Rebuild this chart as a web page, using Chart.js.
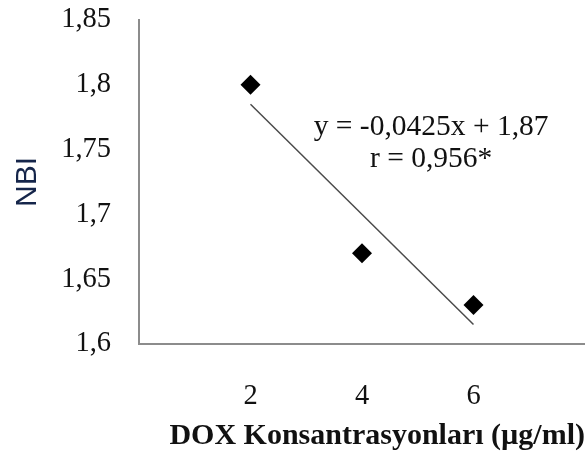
<!DOCTYPE html>
<html>
<head>
<meta charset="utf-8">
<script src="https://cdn.jsdelivr.net/npm/chart.js@4/dist/chart.umd.min.js"></script>
<style>
html,body{margin:0;padding:0;background:#fff;}
canvas{display:block;}
</style>
</head>
<body>
<canvas id="c" width="585" height="457"></canvas>
<script>
// Data
const concentrations = [2, 4, 6];
const nbiValues = [1.80, 1.67, 1.63];
const trendX = [2, 6];
const trendY = [1.785, 1.615];
const xTickLabels = ['2', '4', '6'];
const equationLines = ['y = -0,0425x + 1,87', 'r = 0,956*'];
const equationAnchor = {x: 5.24, y: 1.761};

const serif = '"Liberation Serif", "Times New Roman", serif';

const eqPlugin = {
  id: 'eq',
  afterDatasetsDraw(chart) {
    const {ctx, scales} = chart;
    const px = scales.x.getPixelForValue(equationAnchor.x);
    const py = scales.y.getPixelForValue(equationAnchor.y);
    ctx.save();
    ctx.font = '29.5px ' + serif;
    ctx.fillStyle = '#111';
    ctx.textAlign = 'center';
    ctx.textBaseline = 'alphabetic';
    equationLines.forEach((t, i) => ctx.fillText(t, px, py + i * 32));
    ctx.restore();
  }
};

function zeroPad(s) {
  s.paddingTop = 0; s.paddingBottom = 0; s.paddingLeft = 0; s.paddingRight = 0;
}

new Chart(document.getElementById('c'), {
  type: 'scatter',
  data: {
    datasets: [
      {
        label: 'Trend',
        type: 'line',
        data: trendX.map((x, i) => ({x, y: trendY[i]})),
        borderColor: '#4a4a4a',
        borderWidth: 1.5,
        pointRadius: 0,
        fill: false,
        order: 2
      },
      {
        label: 'NBI',
        data: concentrations.map((x, i) => ({x, y: nbiValues[i]})),
        pointStyle: 'rectRot',
        pointRadius: 10,
        pointHoverRadius: 10,
        backgroundColor: '#000',
        borderColor: '#000',
        borderWidth: 0,
        order: 1
      }
    ]
  },
  options: {
    responsive: false,
    animation: false,
    layout: {autoPadding: false, padding: {top: 20, right: 0, left: 0, bottom: 0}},
    plugins: {legend: {display: false}, tooltip: {enabled: false}},
    scales: {
      x: {
        type: 'linear',
        min: 0, max: 8,
        grid: {display: true, drawOnChartArea: false, drawTicks: false},
        border: {display: true, color: '#8c8c8c', width: 2},
        ticks: {
          stepSize: 2,
          padding: 35,
          color: '#111',
          font: {family: serif, size: 28.5},
          callback: (v) => xTickLabels.includes(String(v)) ? String(v) : ''
        },
        title: {
          display: true,
          text: 'DOX Konsantrasyonları (µg/ml)',
          align: 'end',
          color: '#111',
          font: {family: serif, size: 30, weight: 'bold'},
          padding: {top: 0, bottom: 3}
        },
        afterFit: (s) => { s.height = 113; zeroPad(s); }
      },
      y: {
        min: 1.6, max: 1.85,
        grid: {display: true, drawOnChartArea: false, drawTicks: false},
        border: {display: true, color: '#8c8c8c', width: 2},
        ticks: {
          stepSize: 0.05,
          padding: 28,
          color: '#111',
          font: {family: serif, size: 28.5},
          callback: (v) => String(Number(v.toFixed(2))).replace('.', ',')
        },
        title: {
          display: true,
          text: 'NBI',
          color: '#15254a',
          font: {family: '"Liberation Sans", Arial, sans-serif', size: 30},
          padding: {top: 10, bottom: 0}
        },
        afterFit: (s) => { s.width = 139; zeroPad(s); }
      }
    }
  },
  plugins: [eqPlugin]
});
</script>
</body>
</html>
